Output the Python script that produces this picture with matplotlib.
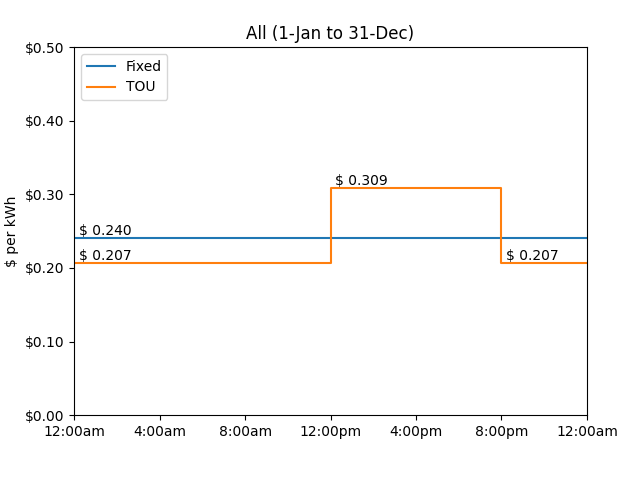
import matplotlib
matplotlib.use("Agg")
import matplotlib.pyplot as plt

hours = [0, 12, 20, 24]
tou = [0.207, 0.309, 0.207, 0.207]
fixed = 0.240
xticks = [0, 4, 8, 12, 16, 20, 24]
xlabels = ["12:00am", "4:00am", "8:00am", "12:00pm", "4:00pm", "8:00pm", "12:00am"]

fig = plt.figure(figsize=(6.4, 4.8), dpi=100)
ax = fig.add_axes([0.116, 0.135, 0.801, 0.767])
ax.plot([0, 24], [fixed, fixed], label="Fixed")
ax.step(hours, tou, where="post", label="TOU")
ax.text(0.2, fixed, f"$ {fixed:.3f}", va="bottom")
for h, v in zip(hours[:-1], tou[:-1]):
    ax.text(h + 0.2, v, f"$ {v:.3f}", va="bottom")
ax.set_xlim(0, 24)
ax.set_ylim(0, 0.5)
ax.set_xticks(xticks)
ax.set_xticklabels(xlabels)
ax.set_yticks([0, 0.1, 0.2, 0.3, 0.4, 0.5])
ax.set_yticklabels([f"${v:.2f}" for v in [0, 0.1, 0.2, 0.3, 0.4, 0.5]])
ax.set_ylabel("$ per kWh")
ax.set_title("All (1-Jan to 31-Dec)")
ax.legend(loc="upper left")
fig.savefig("out.png")
